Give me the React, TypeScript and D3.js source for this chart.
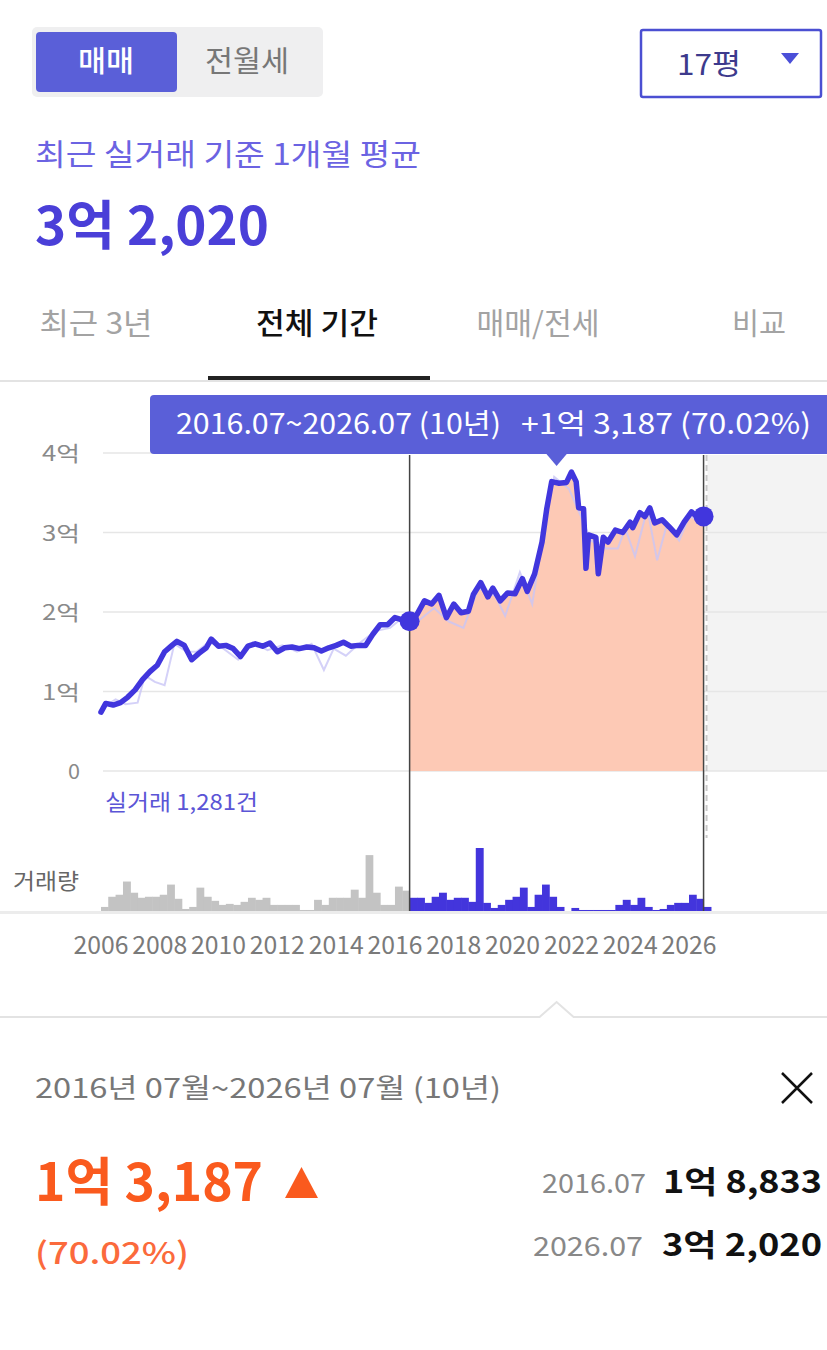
import React from 'react';
import * as d3 from 'd3';

// 월별 평균 실거래가 (억 원)
const priceMonths = [
  '2006.01', '2006.03', '2006.06', '2006.09', '2006.12', '2007.03', '2007.06', '2007.09', '2007.12',
  '2008.03', '2008.06', '2008.08', '2008.11', '2009.02', '2009.05', '2009.08', '2009.10',
  '2010.01', '2010.04', '2010.07', '2010.10', '2011.01', '2011.04', '2011.07', '2011.10',
  '2012.01', '2012.04', '2012.07', '2012.10', '2013.01', '2013.04', '2013.07', '2013.10',
  '2014.01', '2014.04', '2014.07', '2014.10', '2015.01', '2015.04', '2015.07', '2015.10',
  '2016.01', '2016.04', '2016.07', '2016.10', '2017.01', '2017.04', '2017.07', '2017.10',
  '2018.01', '2018.04', '2018.07', '2018.09', '2018.12', '2019.03', '2019.05', '2019.08', '2019.11',
  '2020.02', '2020.05', '2020.07', '2020.10', '2021.01', '2021.03', '2021.05', '2021.08', '2021.11',
  '2022.01', '2022.03', '2022.04', '2022.06', '2022.07', '2022.08', '2022.11', '2022.12',
  '2023.02', '2023.04', '2023.07', '2023.10', '2024.01', '2024.02', '2024.05', '2024.07',
  '2024.09', '2024.11', '2025.02', '2025.05', '2025.08', '2025.11', '2026.02', '2026.05', '2026.07',
];
const priceValues = [
  0.74, 0.85, 0.83, 0.86, 0.93, 1.02, 1.15, 1.25, 1.33,
  1.5, 1.58, 1.63, 1.58, 1.4, 1.48, 1.55, 1.66,
  1.57, 1.58, 1.54, 1.44, 1.57, 1.6, 1.57, 1.61,
  1.5, 1.55, 1.56, 1.54, 1.56, 1.55, 1.51, 1.55,
  1.58, 1.62, 1.57, 1.58, 1.58, 1.72, 1.84, 1.84,
  1.93, 1.9, 1.8833, 1.97, 2.14, 2.1, 2.21, 1.93,
  2.1, 1.99, 2.01, 2.22, 2.37, 2.19, 2.3, 2.14, 2.24,
  2.23, 2.42, 2.26, 2.48, 2.88, 3.3, 3.64, 3.62, 3.63,
  3.76, 3.64, 3.31, 3.3, 2.55, 2.97, 2.94, 2.48,
  2.94, 2.88, 3.03, 3.0, 3.13, 3.06, 3.25, 3.2,
  3.31, 3.12, 3.16, 3.07, 2.97, 3.13, 3.26, 3.18, 3.202,
];

// 개별 실거래 (연한 선)
const tradeMonths = [
  '2006.02', '2006.07', '2006.11', '2007.04', '2007.07', '2007.11', '2008.03', '2008.07', '2008.12',
  '2009.04', '2009.09', '2010.02', '2010.09', '2011.03', '2011.09', '2012.03', '2012.09',
  '2013.03', '2013.08', '2013.12', '2014.05', '2014.11', '2015.05', '2015.11', '2016.05',
  '2016.11', '2017.05', '2017.11', '2018.05', '2018.11', '2019.06', '2019.10', '2020.04',
  '2020.09', '2021.02', '2021.06', '2021.12', '2022.05', '2022.09', '2023.03', '2023.08',
  '2023.11', '2024.03', '2024.08', '2024.12', '2025.04', '2025.09', '2026.01', '2026.06',
];
const tradeValues = [
  0.8, 0.9, 0.84, 0.86, 1.2, 1.12, 1.08, 1.6, 1.5,
  1.5, 1.62, 1.56, 1.4, 1.62, 1.52, 1.58, 1.5,
  1.6, 1.27, 1.54, 1.45, 1.62, 1.76, 1.8, 1.95,
  1.9, 2.05, 1.88, 1.8, 2.3, 2.2, 1.95, 2.5,
  2.1, 3.1, 3.7, 3.55, 3.2, 2.9, 2.8, 2.8,
  3.05, 2.7, 3.3, 2.65, 3.1, 2.9, 3.2, 3.15,
];

// 분기별 거래량 (2006 1분기 ~ 2026 3분기)
const volumeQuarters = d3.range(83).map((i) => `${2006 + Math.floor(i / 4)}.${String((i % 4) * 3 + 1).padStart(2, '0')}`);
const volumeCounts = [
  4, 14, 16, 29, 18, 13, 14, 14, 16, 26, 12, 2,
  4, 23, 14, 10, 6, 7, 6, 9, 13, 11, 13, 6,
  6, 6, 6, 1, 1, 11, 6, 13, 13, 13, 21, 13,
  55, 18, 6, 6, 24, 20, 13, 13, 8, 14, 18, 11,
  13, 13, 9, 62, 8, 3, 6, 11, 14, 23, 4, 16,
  26, 14, 4, 0, 3, 1, 1, 1, 1, 1, 6, 11,
  6, 13, 4, 1, 2, 6, 8, 8, 16, 12, 4,
];

const yTicks = [0, 1, 2, 3, 4];
const yearTicks = d3.range(2006, 2027, 2);
const tabs = ['최근 3년', '전체 기간', '매매/전세', '비교'];
const rangeStart = '2016.07';
const rangeEnd = '2026.07';

const FONT = '"Noto Sans CJK KR", "Noto Sans", sans-serif';
const parse = (s: string) => {
  const [y, m] = s.split('.').map(Number);
  return new Date(y, m - 1, 1);
};

// 폭을 맞춘 텍스트
const T = ({ x, y, size, len, anchor = 'start', weight = 400, fill, children }: any) => (
  <text
    x={x}
    y={y}
    fontSize={size}
    fontWeight={weight}
    fill={fill}
    textAnchor={anchor}
    textLength={len}
    lengthAdjust="spacingAndGlyphs"
  >
    {children}
  </text>
);

export default function App() {
  const W = 827;
  const H = 1350;

  const x = d3.scaleTime().domain([new Date(2006, 0, 1), new Date(2026, 0, 1)]).range([101, 689]);
  const y = d3.scaleLinear().domain([0, 4]).range([771, 453]);
  const yVol = d3.scaleLinear().domain([0, 62]).range([911, 848]);

  const prices = priceMonths.map((m, i) => ({ date: parse(m), v: priceValues[i] }));
  const trades = tradeMonths.map((m, i) => ({ date: parse(m), v: tradeValues[i] }));
  const t0 = parse(rangeStart);
  const t1 = parse(rangeEnd);
  const x0 = x(t0);
  const x1 = x(t1);

  const line = d3.line<{ date: Date; v: number }>().x((d) => x(d.date)).y((d) => y(d.v));
  const area = d3.area<{ date: Date; v: number }>().x((d) => x(d.date)).y0(y(0)).y1((d) => y(d.v));
  const inRange = prices.filter((d) => d.date >= t0 && d.date <= t1);

  const pStart = prices.find((d) => +d.date === +t0)!;
  const pEnd = prices[prices.length - 1];
  const midX = (x0 + x1) / 2;

  const tabX = [96, 317, 538, 759];
  const tabLen = [113, 122, 123, 54];

  return (
    <div style={{ position: 'absolute', left: 0, top: 0 }}>
      <svg width={W} height={H} style={{ display: 'block', fontFamily: FONT }}>
        <rect width={W} height={H} fill="#fff" />

        {/* 상단 컨트롤 */}
        <rect x={32} y={27} width={291} height={70} rx={5} fill="#efeff0" />
        <rect x={36} y={32} width={141} height={60} rx={4} fill="#5a5fd8" />
        <T x={106} y={72} size={29} len={56} anchor="middle" weight={500} fill="#fff">매매</T>
        <T x={247} y={72} size={29} len={84} anchor="middle" fill="#777">전월세</T>

        <rect x={641} y={30} width={180} height={67} fill="#fff" stroke="#4b4fd2" strokeWidth={2.5} rx={2} />
        <T x={709} y={75} size={29} len={64} anchor="middle" fill="#3d3a8c">17평</T>
        <path d="M781,53 L799,53 L790,64 Z" fill="#4b4fd8" />

        <T x={35} y={165} size={30} len={386} fill="#6b63e2">최근 실거래 기준 1개월 평균</T>
        <T x={35} y={245} size={53} len={234} weight={700} fill="#4a3fd8">3억 2,020</T>

        {tabs.map((t, i) => (
          <T
            key={t}
            x={tabX[i]}
            y={334}
            size={30}
            len={tabLen[i]}
            anchor="middle"
            weight={i === 1 ? 500 : 400}
            fill={i === 1 ? '#111' : '#a3a3a3'}
          >
            {t}
          </T>
        ))}
        <rect x={0} y={380} width={W} height={2} fill="#e3e3e3" />
        <rect x={208} y={376} width={222} height={4} fill="#222" />

        {/* 차트 */}
        <rect x={x1 + 4} y={455} width={W - x1 - 4} height={y(0) - 455} fill="#f3f3f3" />
        {yTicks.map((t) => (
          <g key={t}>
            <line x1={103} x2={W} y1={y(t)} y2={y(t)} stroke="#e6e6e6" strokeWidth={1.5} />
            <T x={80} y={y(t) + 8} size={21} len={t === 0 ? 12 : 38} anchor="end" fill="#8a8a8a">
              {t === 0 ? '0' : `${t}억`}
            </T>
          </g>
        ))}

        <path d={area(inRange)!} fill="#fdc9b5" />
        <path d={line(trades)!} fill="none" stroke="#c9c5f6" strokeWidth={2} opacity={0.8} />
        <path d={line(prices)!} fill="none" stroke="#4136dd" strokeWidth={5.5} strokeLinejoin="round" strokeLinecap="round" />

        {/* 거래량 */}
        <T x={105} y={810} size={22} len={153} fill="#5b55d6">실거래 1,281건</T>
        <T x={13} y={889} size={22} len={66} fill="#666">거래량</T>
        {volumeQuarters.map((q, i) => {
          const d = parse(q);
          const next = d3.timeMonth.offset(d, 3);
          return (
            <rect
              key={q}
              x={x(d)}
              y={yVol(volumeCounts[i])}
              width={x(next) - x(d) + 0.5}
              height={yVol(0) - yVol(volumeCounts[i])}
              fill={d >= t0 ? '#4335dc' : '#c3c3c3'}
            />
          );
        })}
        <rect x={0} y={911} width={W} height={3} fill="#ececec" />

        {/* 선택 구간 */}
        <line x1={x0} x2={x0} y1={455} y2={911} stroke="#444" strokeWidth={1.5} />
        <line x1={x1} x2={x1} y1={455} y2={911} stroke="#444" strokeWidth={1.5} />
        <line x1={x1 + 3} x2={x1 + 3} y1={455} y2={838} stroke="#c8c8c8" strokeWidth={2} strokeDasharray="6,4" />
        <circle cx={x0} cy={y(pStart.v)} r={10} fill="#4136dd" />
        <circle cx={x(pEnd.date)} cy={y(pEnd.v)} r={10} fill="#4136dd" />

        <rect x={150} y={395} width={700} height={59} rx={4} fill="#5a5fd8" />
        <path d={`M${midX - 11},453 L${midX + 11},453 L${midX},466 Z`} fill="#5a5fd8" />
        <T x={176} y={434} size={28} len={325} fill="#fff">2016.07~2026.07 (10년)</T>
        <T x={521} y={434} size={28} len={290} fill="#fff">+1억 3,187 (70.02%)</T>

        {yearTicks.map((yr) => (
          <T key={yr} x={x(new Date(yr, 0, 1))} y={954} size={24.5} len={55} anchor="middle" fill="#7a7a7a">
            {yr}
          </T>
        ))}

        {/* 하단 요약 */}
        <path d={`M0,1017 L${midX - 17},1017 L${midX},1002 L${midX + 17},1017 L${W},1017`} fill="none" stroke="#e3e3e3" strokeWidth={2} />
        <T x={35} y={1098} size={27} len={466} fill="#777">2016년 07월~2026년 07월 (10년)</T>
        <path d="M782,1073 L812,1103 M812,1073 L782,1103" stroke="#111" strokeWidth={2.5} />

        <T x={35} y={1201} size={52} len={228} weight={700} fill="#fa5a1e">1억 3,187</T>
        <path d="M285,1198 L318,1198 L301.5,1167 Z" fill="#fa5a1e" />
        <T x={35} y={1264} size={30} len={154} weight={500} fill="#fb6a3c">(70.02%)</T>

        <T x={646} y={1193} size={27} len={104} anchor="end" fill="#888">2016.07</T>
        <T x={822} y={1193} size={31} len={159} anchor="end" weight={700} fill="#111">1억 8,833</T>
        <T x={643} y={1256} size={27} len={110} anchor="end" fill="#888">2026.07</T>
        <T x={822} y={1256} size={31} len={160} anchor="end" weight={700} fill="#111">3억 2,020</T>
      </svg>
    </div>
  );
}
